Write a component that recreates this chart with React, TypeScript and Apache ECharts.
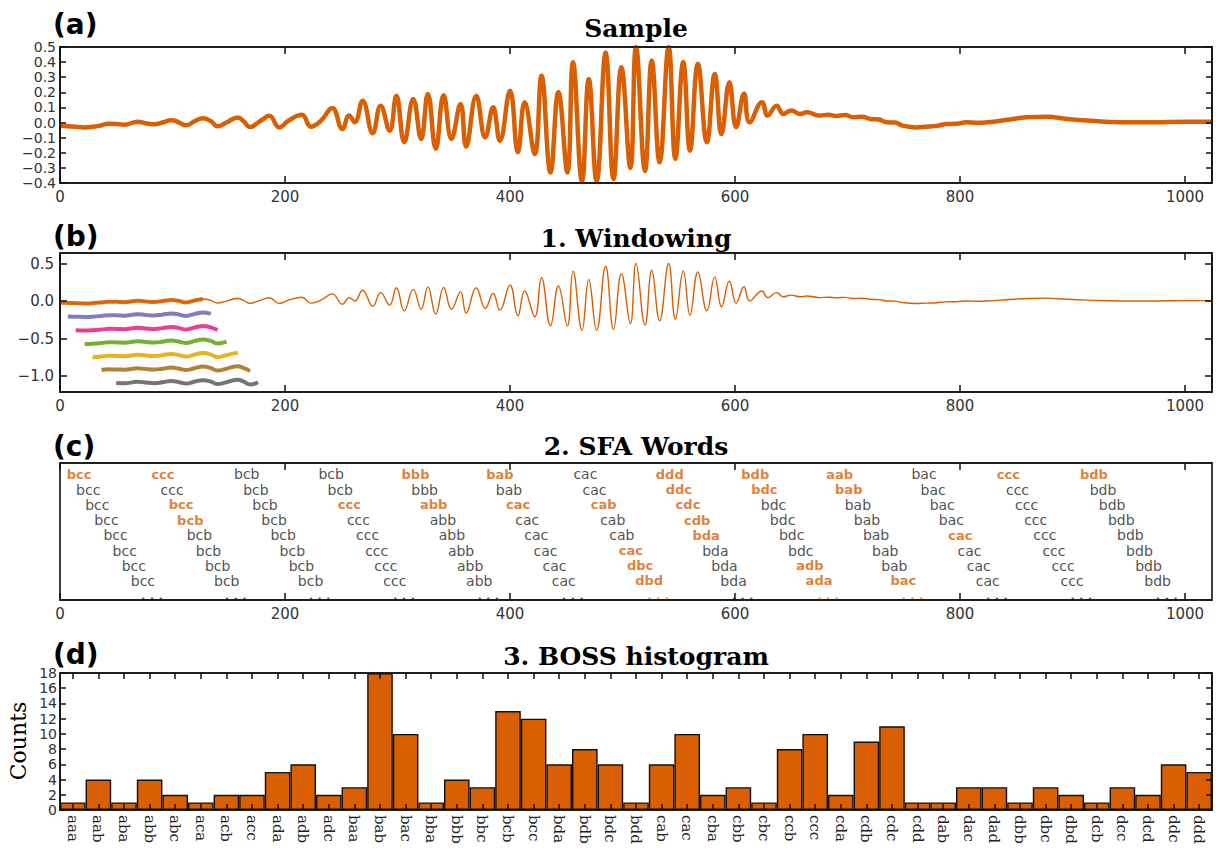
import React, { useEffect, useRef } from "react";
import * as echarts from "echarts";

// ---------- DATA ----------
const signal: [number, number][] = [
  [0, -0.021], [7, -0.024], [14, -0.028], [22, -0.032], [29, -0.028], [37, -0.018], [43, -0.008],
  [50, -0.01], [58, -0.014], [64, -0.002], [69, 0.006], [76, -0.004], [84, -0.012], [91, 0.0],
  [99, 0.016], [106, 0.0], [112, -0.018], [120, 0.01], [127, 0.028], [134, 0.01], [140, -0.025],
  [148, 0.0], [158, 0.034], [163, 0.01], [169, -0.03], [176, 0.0], [180, 0.02], [186, 0.045],
  [195, -0.032], [203, 0.012], [215, 0.052], [223, -0.027], [232, 0.012], [242, 0.096], [251, -0.043],
  [257, 0.046], [262, 0.002], [269, 0.145], [278, -0.071], [285, 0.112], [293, -0.054], [299, 0.178],
  [306, -0.13], [314, 0.156], [321, -0.108], [327, 0.189], [334, -0.174], [341, 0.18], [348, -0.108],
  [356, 0.123], [361, -0.16], [370, 0.178], [378, -0.098], [385, 0.101], [391, -0.12], [400, 0.211],
  [407, -0.197], [413, 0.134], [422, -0.208], [428, 0.31], [436, -0.33], [443, 0.2], [451, -0.33],
  [456, 0.399], [464, -0.39], [470, 0.288], [477, -0.39], [485, 0.464], [492, -0.374], [499, 0.366],
  [507, -0.3], [512, 0.5], [520, -0.32], [526, 0.41], [533, -0.263], [541, 0.5], [547, -0.24],
  [554, 0.4], [560, -0.186], [567, 0.388], [575, -0.13], [582, 0.322], [588, -0.076], [595, 0.267],
  [601, -0.031], [608, 0.19], [613, 0.002], [624, 0.134], [629, 0.046], [637, 0.112], [643, 0.057],
  [650, 0.079], [658, 0.057], [664, 0.068], [675, 0.046], [683, 0.052], [690, 0.044], [698, 0.05],
  [705, 0.035], [713, 0.038], [720, 0.024], [728, 0.02], [735, 0.002], [742, 0.0], [749, -0.02],
  [761, -0.032], [770, -0.027], [779, -0.022], [788, -0.01], [797, -0.008], [806, 0.002],
  [815, -0.002], [824, 0.002], [841, 0.017], [859, 0.035], [877, 0.039], [895, 0.024], [913, 0.013],
  [942, 0.002], [972, 0.002], [1001, 0.006], [1024, 0.006],
];

const windowStarts = [0, 6, 14, 22, 29, 37, 45];
const windowLength = 133;
const windowOffsets = [0, -0.18, -0.36, -0.54, -0.72, -0.9, -1.08];
const windowColors = ["#d95f02", "#7570b3", "#e7298a", "#66a61e", "#e6ab02", "#a6761d", "#666666"];

const sfaColumns: string[][] = [
  ["bcc", "bcc", "bcc", "bcc", "bcc", "bcc", "bcc", "bcc"],
  ["ccc", "ccc", "bcc", "bcb", "bcb", "bcb", "bcb", "bcb"],
  ["bcb", "bcb", "bcb", "bcb", "bcb", "bcb", "bcb", "bcb"],
  ["bcb", "bcb", "ccc", "ccc", "ccc", "ccc", "ccc", "ccc"],
  ["bbb", "bbb", "abb", "abb", "abb", "abb", "abb", "abb"],
  ["bab", "bab", "cac", "cac", "cac", "cac", "cac", "cac"],
  ["cac", "cac", "cab", "cab", "cab", "cac", "dbc", "dbd"],
  ["ddd", "ddc", "cdc", "cdb", "bda", "bda", "bda", "bda"],
  ["bdb", "bdc", "bdc", "bdc", "bdc", "bdc", "adb", "ada"],
  ["aab", "bab", "bab", "bab", "bab", "bab", "bab", "bac"],
  ["bac", "bac", "bac", "bac", "cac", "cac", "cac", "cac"],
  ["ccc", "ccc", "ccc", "ccc", "ccc", "ccc", "ccc", "ccc"],
  ["bdb", "bdb", "bdb", "bdb", "bdb", "bdb", "bdb", "bdb"],
];
const sfaColumnStarts = [17, 91.5, 166, 241, 316, 391, 467, 542, 618, 693, 768, 843, 919];
const sfaRowStep = 8.1;

const histWords = [
  "aaa", "aab", "aba", "abb", "abc", "aca", "acb", "acc", "ada", "adb", "adc", "baa", "bab", "bac",
  "bba", "bbb", "bbc", "bcb", "bcc", "bda", "bdb", "bdc", "bdd", "cab", "cac", "cba", "cbb", "cbc",
  "ccb", "ccc", "cda", "cdb", "cdc", "cdd", "dab", "dac", "dad", "dbb", "dbc", "dbd", "dcb", "dcc",
  "dcd", "ddc", "ddd",
];
const histCounts = [
  1, 4, 1, 4, 2, 1, 2, 2, 5, 6, 2, 3, 18, 10,
  1, 4, 3, 13, 12, 6, 8, 6, 1, 6, 10, 2, 3, 1,
  8, 10, 2, 9, 11, 1, 1, 3, 3, 1, 3, 2, 1, 3,
  2, 6, 5,
];

const xTickValues = [0, 200, 400, 600, 800, 1000];
const sampleYTicks = [-0.4, -0.3, -0.2, -0.1, 0, 0.1, 0.2, 0.3, 0.4, 0.5];
const windowYTicks = [-1, -0.5, 0, 0.5];

// ---------- STYLE ----------
const ORANGE = "#d95f02";
const INK = "#111";
const LABEL = "#333";
const SANS = "DejaVu Sans";
const SERIF = "DejaVu Serif";

const fmt1 = (v: number) => {
  const s = Math.abs(v).toFixed(1);
  return (v < -1e-9 ? "\u2212" : "") + s;
};

const tickStyle = (len = 7) => ({
  show: true,
  inside: true,
  length: len,
  lineStyle: { color: INK, width: 1.5 },
});

const edgeLine = { show: true, onZero: false, lineStyle: { color: INK, width: 1.6 } };

function buildOption() {
  const grids = [
    { left: 60, right: 4, top: 47, height: 136 },
    { left: 60, right: 4, top: 253, height: 139 },
    { left: 60, right: 4, top: 463, height: 137 },
    { left: 60, right: 4, top: 673, height: 137 },
  ].map((g) => ({
    ...g,
    show: true,
    borderColor: INK,
    borderWidth: 1.6,
    backgroundColor: "transparent",
    containLabel: false,
  }));

  const valueX = (gridIndex: number, position: "bottom" | "top", labels: boolean) => ({
    type: "value",
    gridIndex,
    position,
    min: 0,
    max: 1024,
    axisLine: edgeLine,
    splitLine: { show: false },
    axisTick: { ...tickStyle(7), customValues: xTickValues },
    axisLabel: {
      show: labels,
      customValues: xTickValues,
      color: LABEL,
      fontFamily: SANS,
      fontSize: 15,
      margin: 6,
      formatter: (v: number) => (xTickValues.includes(v) ? String(v) : ""),
    },
    z: 5,
  });

  const xAxes: any[] = [
    valueX(0, "bottom", true),
    valueX(0, "top", false),
    valueX(1, "bottom", true),
    valueX(1, "top", false),
    valueX(2, "bottom", true),
    valueX(2, "top", false),
    {
      type: "category",
      gridIndex: 3,
      position: "bottom",
      data: histWords,
      boundaryGap: true,
      axisLine: edgeLine,
      axisTick: { ...tickStyle(6), alignWithLabel: true, interval: 0 },
      axisLabel: {
        interval: 0,
        rotate: -90,
        color: "#222",
        fontFamily: SERIF,
        fontSize: 15,
        margin: 5,
      },
      z: 5,
    },
    {
      type: "category",
      gridIndex: 3,
      position: "top",
      data: histWords,
      boundaryGap: true,
      axisLine: edgeLine,
      axisTick: { ...tickStyle(6), alignWithLabel: true, interval: 0 },
      axisLabel: { show: false },
      z: 5,
    },
  ];

  const yAxes: any[] = [
    {
      type: "value",
      gridIndex: 0,
      position: "left",
      min: -0.4,
      max: 0.5,
      interval: 0.1,
      axisLine: edgeLine,
      splitLine: { show: false },
      axisTick: { ...tickStyle(6), customValues: sampleYTicks },
      axisLabel: {
        customValues: sampleYTicks,
        showMinLabel: true,
        showMaxLabel: true,
        hideOverlap: false,
        color: LABEL,
        fontFamily: SANS,
        fontSize: 14,
        lineHeight: 14,
        margin: 4,
        formatter: (v: number) => fmt1(v),
      },
      z: 5,
    },
    {
      type: "value",
      gridIndex: 0,
      position: "right",
      min: -0.4,
      max: 0.5,
      interval: 0.1,
      axisLine: edgeLine,
      splitLine: { show: false },
      axisTick: { ...tickStyle(6), customValues: sampleYTicks },
      axisLabel: { show: false },
      z: 5,
    },
    {
      type: "value",
      gridIndex: 1,
      position: "left",
      min: -1.21,
      max: 0.64,
      axisLine: edgeLine,
      splitLine: { show: false },
      axisTick: { ...tickStyle(7), customValues: windowYTicks },
      axisLabel: {
        customValues: windowYTicks,
        color: LABEL,
        fontFamily: SANS,
        fontSize: 15,
        margin: 6,
        formatter: (v: number) => fmt1(v),
      },
      z: 5,
    },
    {
      type: "value",
      gridIndex: 1,
      position: "right",
      min: -1.21,
      max: 0.64,
      axisLine: edgeLine,
      splitLine: { show: false },
      axisTick: { ...tickStyle(7), customValues: windowYTicks },
      axisLabel: { show: false },
      z: 5,
    },
    {
      type: "value",
      gridIndex: 2,
      inverse: true,
      min: -0.75,
      max: 8.25,
      axisLine: { show: false, onZero: false },
      splitLine: { show: false },
      axisTick: { show: false },
      axisLabel: { show: false },
    },
    {
      type: "value",
      gridIndex: 3,
      position: "left",
      min: 0,
      max: 18,
      interval: 2,
      axisLine: edgeLine,
      splitLine: { show: false },
      axisTick: tickStyle(6),
      axisLabel: {
        showMinLabel: true,
        showMaxLabel: true,
        color: LABEL,
        fontFamily: SANS,
        fontSize: 14,
        lineHeight: 14,
        margin: 3,
      },
      z: 5,
    },
    {
      type: "value",
      gridIndex: 3,
      position: "right",
      min: 0,
      max: 18,
      interval: 2,
      axisLine: edgeLine,
      splitLine: { show: false },
      axisTick: tickStyle(6),
      axisLabel: { show: false },
      z: 5,
    },
  ];

  const series: any[] = [];

  // (a) sample
  series.push({
    type: "line",
    xAxisIndex: 0,
    yAxisIndex: 0,
    data: signal,
    smooth: 0.45,
    showSymbol: false,
    lineStyle: { color: ORANGE, width: 4.5 },
    z: 2,
  });

  // (b) windowing: thin full signal
  series.push({
    type: "line",
    xAxisIndex: 2,
    yAxisIndex: 2,
    data: signal,
    smooth: 0.45,
    showSymbol: false,
    lineStyle: { color: ORANGE, width: 1.4 },
    z: 2,
  });
  windowStarts.forEach((start, i) => {
    const seg = signal
      .filter(([x]) => x >= start && x <= start + windowLength)
      .map(([x, y]) => [x, y + windowOffsets[i]]);
    series.push({
      type: "line",
      xAxisIndex: 2,
      yAxisIndex: 2,
      data: seg,
      smooth: 0.45,
      showSymbol: false,
      lineStyle: { color: windowColors[i], width: 4, opacity: 0.9 },
      z: 3,
    });
  });

  // (c) SFA words
  const wordItems: any[] = [];
  let prev = "";
  sfaColumns.forEach((col, c) => {
    let lastHighlighted = false;
    col.forEach((w, r) => {
      const hl = w !== prev;
      prev = w;
      lastHighlighted = hl;
      wordItems.push({
        value: [sfaColumnStarts[c] + r * sfaRowStep, r],
        name: w,
        label: {
          color: hl ? ORANGE : "#222",
          fontWeight: hl ? "bold" : "normal",
          fontSize: hl ? 13 : 14,
        },
      });
    });
    wordItems.push({
      value: [sfaColumnStarts[c] + col.length * sfaRowStep, 8.0],
      name: ". . .",
      label: {
        color: lastHighlighted ? ORANGE : "#222",
        fontWeight: "bold",
        fontSize: 12,
      },
    });
  });
  series.push({
    type: "scatter",
    xAxisIndex: 4,
    yAxisIndex: 4,
    data: wordItems,
    symbolSize: 1,
    itemStyle: { color: "rgba(0,0,0,0)" },
    label: {
      show: true,
      position: "inside",
      formatter: "{b}",
      fontFamily: SANS,
      align: "center",
      verticalAlign: "middle",
    },
    emphasis: { disabled: true },
    z: 3,
  });

  // (d) histogram
  series.push({
    type: "bar",
    xAxisIndex: 6,
    yAxisIndex: 5,
    data: histCounts,
    barCategoryGap: "0%",
    itemStyle: { color: ORANGE, borderColor: INK, borderWidth: 1.4 },
    z: 2,
  });

  const titleText = (text: string, y: number) => ({
    type: "text",
    x: 636,
    y,
    style: {
      text,
      font: `bold 25px "${SERIF}"`,
      fill: "#000",
      align: "center",
      verticalAlign: "middle",
      textAlign: "center",
      textVerticalAlign: "middle",
    },
    z: 10,
  });
  const panelText = (text: string, y: number) => ({
    type: "text",
    x: 53,
    y,
    style: {
      text,
      font: `bold 28px "${SANS}"`,
      fill: "#000",
      align: "left",
      verticalAlign: "middle",
      textAlign: "left",
      textVerticalAlign: "middle",
    },
    z: 10,
  });

  return {
    animation: false,
    backgroundColor: "#fff",
    grid: grids,
    xAxis: xAxes,
    yAxis: yAxes,
    series,
    graphic: [
      panelText("(a)", 24),
      panelText("(b)", 236),
      panelText("(c)", 446),
      panelText("(d)", 654),
      titleText("Sample", 28),
      titleText("1. Windowing", 238),
      titleText("2. SFA Words", 446),
      titleText("3. BOSS histogram", 656),
      {
        type: "text",
        x: 18,
        y: 741,
        rotation: Math.PI / 2,
        style: {
          text: "Counts",
          font: `22px "${SERIF}"`,
          fill: "#000",
          align: "center",
          verticalAlign: "middle",
          textAlign: "center",
          textVerticalAlign: "middle",
        },
        z: 10,
      },
    ],
  };
}

export default function App() {
  const ref = useRef<HTMLDivElement>(null);
  useEffect(() => {
    if (!ref.current) return;
    const chart = echarts.init(ref.current, undefined, { renderer: "svg" });
    chart.setOption(buildOption() as any);
    return () => chart.dispose();
  }, []);
  return (
    <div
      ref={ref}
      style={{ position: "fixed", left: 0, top: 0, width: 1216, height: 852, background: "#fff" }}
    />
  );
}
